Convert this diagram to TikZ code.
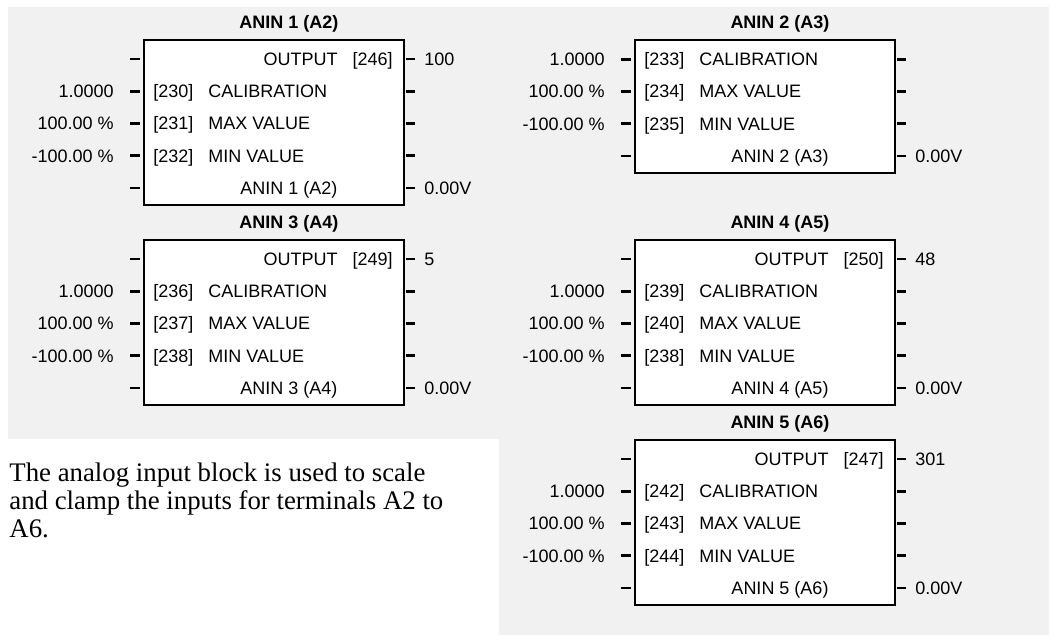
\documentclass[tikz,border=0pt]{standalone}
\usepackage{fontspec}
\setmainfont{Liberation Sans}
\newfontfamily\noteface{Liberation Serif}
\definecolor{panel}{HTML}{F1F1F1}
\tikzset{
  blockbox/.style={draw=black,line width=0.9pt,fill=white,inner sep=0pt,minimum width=130pt},
  celltext/.style={font=\fontsize{9}{10}\selectfont,inner sep=0pt,text height=6.4pt,text depth=0pt},
  blocktitle/.style={celltext,font=\bfseries\fontsize{9}{10}\selectfont},
  notetext/.style={font=\noteface\fontsize{13.4}{14}\selectfont,inner sep=0pt},
  pin/.style={line width=1.4pt}
}
% #1 name, #2 left, #3 top, #4 title, #5 output no. (empty: none), #6 output value, #7-#9 parameter no.
\newcommand{\aninblock}[9]{%
  \begin{scope}[shift={(#2,#3)}]
    \if\relax\detokenize{#5}\relax
      \node[blockbox,minimum height=66.5pt] (#1) at (130,98.5) {};
    \else
      \node[blockbox,minimum height=82.5pt] (#1) at (130,82.5) {};
      \coordinate (#1r0) at (0,19);
      \node[celltext,anchor=east] (#1o) at (194,19) {OUTPUT};
      \node[celltext,anchor=east] (#1on) at (249,19) {[#5]};
      \node[celltext,anchor=west] (#1ov) at (280,19) {#6};
      \draw[pin] (#1.west |- #1r0) ++(-3,0) -- ++(-10,0);
      \draw[pin] (#1.east |- #1r0) ++(1,0) -- ++(9,0);
    \fi
    \node[blocktitle] (#1t) at ([xshift=7.5pt,yshift=8.5pt]#1.north) {#4};
    \foreach \n/\v/\p/\r [count=\i] in {#7/1.0000/CALIBRATION/51.3,#8/100.00 \%/MAX VALUE/83.5,#9/-100.00 \%/MIN VALUE/115.8}{
      \node[celltext,anchor=east] (#1v\i) at (-30,\r) {\v};
      \node[celltext,anchor=west] (#1n\i) at (9,\r) {[\n]};
      \node[celltext,anchor=west] (#1p\i) at (64,\r) {\p};
    }
    \node[celltext] (#1b) at (145,148) {#4};
    \node[celltext,anchor=west] (#1bv) at (280,148) {0.00V};
    \foreach \r [count=\i] in {51.3,83.5,115.8,148}{
      \coordinate (#1r\i) at (0,\r);
      \draw[pin] (#1.west |- #1r\i) ++(-3,0) -- ++(-10,0);
      \draw[pin] (#1.east |- #1r\i) ++(1,0) -- ++(9,0);
    }
  \end{scope}}

\begin{document}
\begin{tikzpicture}[x=0.5pt,y=-0.5pt]
  \fill[white] (0,0) rectangle (1051,635);
  \fill[panel] (8,7) -- (1049,7) -- (1049,635) -- (499,635) -- (499,439) -- (8,439) -- cycle;

  \aninblock{aninA}{144}{40}{ANIN 1 (A2)}{246}{100}{230}{231}{232}
  \aninblock{aninB}{635}{8}{ANIN 2 (A3)}{}{}{233}{234}{235}
  \aninblock{aninC}{144}{240}{ANIN 3 (A4)}{249}{5}{236}{237}{238}
  \aninblock{aninD}{635}{240}{ANIN 4 (A5)}{250}{48}{239}{240}{238}
  \aninblock{aninE}{635}{440}{ANIN 5 (A6)}{247}{301}{242}{243}{244}

  % description
  \node[notetext,anchor=base west] (note1) at (9,482) {The analog input block is used to scale};
  \node[notetext,anchor=base west] (note2) at (9,510) {and clamp the inputs for terminals A2 to};
  \node[notetext,anchor=base west] (note3) at (9,538) {A6.};
\end{tikzpicture}
\end{document}
